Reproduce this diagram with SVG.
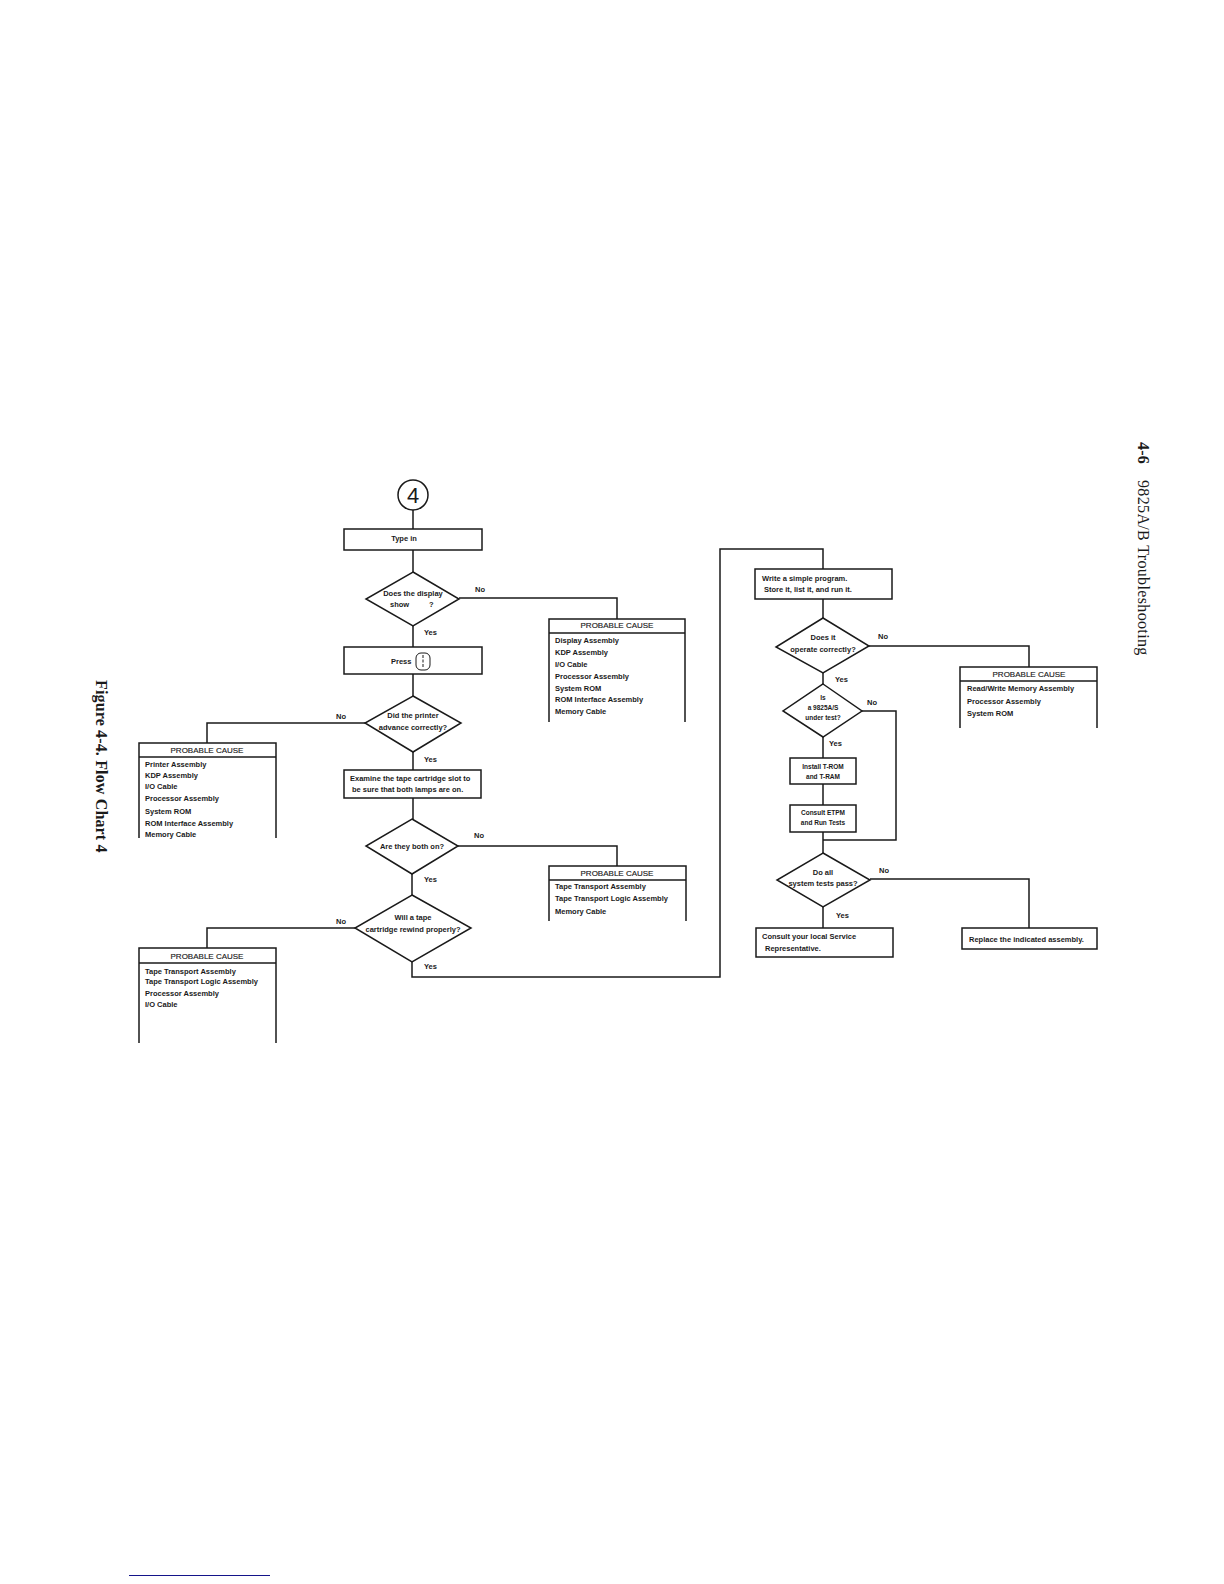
<svg xmlns="http://www.w3.org/2000/svg" width="1224" height="1584" viewBox="0 0 1224 1584">
<style>
text{font-family:"Liberation Sans",Arial,sans-serif;font-size:7.5px;font-weight:bold;fill:#1a1a1a}
.c{text-anchor:middle}
.h{font-size:8px;font-weight:normal;stroke:#1a1a1a;stroke-width:.15}
.s{font-size:6.5px}
.n{fill:#fff;stroke:#1a1a1a;stroke-width:1.5}
.o{fill:none;stroke:#1a1a1a;stroke-width:1.5}
.l{fill:none;stroke:#1a1a1a;stroke-width:1.5}
.t{font-family:"Liberation Serif",serif;font-size:16px;font-weight:normal;letter-spacing:.35px}
.b{font-weight:bold;letter-spacing:.15px}
</style>
<rect width="1224" height="1584" fill="#fff"/>
<g id="connectors" class="l">
<path d="M413 510V529M413 550V572M459 598H617V619M413 626V647M413 674V696M365 723H207V743M413 752V770M413 798V819M458 846H617V866M412 874V895M355 928H207V948M412 962V977H720V549H823V569M823 599V618M869 646H1029V667M823 673V684M862 711H896V840H823M823 737V758M823 784V805M823 832V853M870 879H1029V928M823 907V928"/>
</g>
<g id="n-start"><circle class="n" cx="413" cy="495" r="15"/><text class="c" x="413" y="503" style="font-size:22px;font-weight:normal">4</text></g>
<g id="n-typein"><rect class="n" x="344" y="529" width="138" height="21"/><text class="c" x="404" y="541">Type in</text></g>
<g id="n-d1"><path class="n" d="M413 572L459 599L413 626L366 599Z"/><text class="c" x="413" y="596">Does the display</text><text x="390" y="607">show</text><text x="429" y="607">?</text></g>
<g id="n-press"><rect class="n" x="344" y="647" width="138" height="27"/><text x="391" y="664">Press</text><rect x="416" y="653" width="14" height="17" rx="5" fill="#fff" stroke="#1a1a1a" stroke-width="1"/><path d="M423 655V668" stroke="#1a1a1a" stroke-width="1" stroke-dasharray="3 1.5"/></g>
<g id="n-d2"><path class="n" d="M413 696L461 723L413 752L365 723Z"/><text class="c" x="413" y="718">Did the printer</text><text class="c" x="413" y="730">advance correctly?</text></g>
<g id="n-examine"><rect class="n" x="344" y="770" width="137" height="28"/><text x="350" y="781">Examine the tape cartridge slot to</text><text x="352" y="792">be sure that both lamps are on.</text></g>
<g id="n-d3"><path class="n" d="M412 819L458 846L412 874L366 846Z"/><text class="c" x="412" y="849">Are they both on?</text></g>
<g id="n-d4"><path class="n" d="M412 895L471 928L412 962L355 928Z"/><text class="c" x="413" y="920">Will a tape</text><text class="c" x="413" y="932">cartridge rewind properly?</text></g>
<g id="n-pc1"><path class="n" d="M549 722V619H685V722" /><path class="o" d="M549 633H685"/><text class="c h" x="617" y="628">PROBABLE CAUSE</text><text x="555" y="643">Display Assembly</text><text x="555" y="655">KDP Assembly</text><text x="555" y="667">I/O Cable</text><text x="555" y="679">Processor Assembly</text><text x="555" y="691">System ROM</text><text x="555" y="702">ROM Interface Assembly</text><text x="555" y="714">Memory Cable</text></g>
<g id="n-pc2"><path class="n" d="M139 838V743H276V838"/><path class="o" d="M139 757H276"/><text class="c h" x="207" y="753">PROBABLE CAUSE</text><text x="145" y="767">Printer Assembly</text><text x="145" y="778">KDP Assembly</text><text x="145" y="789">I/O Cable</text><text x="145" y="801">Processor Assembly</text><text x="145" y="814">System ROM</text><text x="145" y="826">ROM Interface Assembly</text><text x="145" y="837">Memory Cable</text></g>
<g id="n-pc3"><path class="n" d="M549 921V866H686V921"/><path class="o" d="M549 880H686"/><text class="c h" x="617" y="876">PROBABLE CAUSE</text><text x="555" y="889">Tape Transport Assembly</text><text x="555" y="901">Tape Transport Logic Assembly</text><text x="555" y="914">Memory Cable</text></g>
<g id="n-pc4"><path class="n" d="M139 1043V948H276V1043"/><path class="o" d="M139 963H276"/><text class="c h" x="207" y="959">PROBABLE CAUSE</text><text x="145" y="974">Tape Transport Assembly</text><text x="145" y="984">Tape Transport Logic Assembly</text><text x="145" y="996">Processor Assembly</text><text x="145" y="1007">I/O Cable</text></g>
<g id="n-write"><rect class="n" x="755" y="569" width="137" height="30"/><text x="762" y="581">Write a simple program.</text><text x="764" y="592">Store it, list it, and run it.</text></g>
<g id="n-d5"><path class="n" d="M823 618L869 646L823 673L776 647Z"/><text class="c" x="823" y="640">Does it</text><text class="c" x="823" y="652">operate correctly?</text></g>
<g id="n-pc5"><path class="n" d="M960 728V667H1097V728"/><path class="o" d="M960 681H1097"/><text class="c h" x="1029" y="677">PROBABLE CAUSE</text><text x="967" y="691">Read/Write Memory Assembly</text><text x="967" y="704">Processor Assembly</text><text x="967" y="716">System ROM</text></g>
<g id="n-d6"><path class="n" d="M823 684L862 711L823 737L783 711Z"/><text class="c s" x="823" y="700">Is</text><text class="c s" x="823" y="710">a 9825A/S</text><text class="c s" x="823" y="720">under test?</text></g>
<g id="n-install"><rect class="n" x="790" y="758" width="66" height="26"/><text class="c s" x="823" y="769">Install T-ROM</text><text class="c s" x="823" y="779">and T-RAM</text></g>
<g id="n-consult"><rect class="n" x="790" y="805" width="66" height="27"/><text class="c s" x="823" y="815">Consult ETPM</text><text class="c s" x="823" y="825">and Run Tests</text></g>
<g id="n-d7"><path class="n" d="M823 853L870 880L823 907L777 880Z"/><text class="c" x="823" y="875">Do all</text><text class="c" x="823" y="886">system tests pass?</text></g>
<g id="n-service"><rect class="n" x="756" y="928" width="137" height="29"/><text x="762" y="939">Consult your local Service</text><text x="765" y="951">Representative.</text></g>
<g id="n-replace"><rect class="n" x="962" y="928" width="135" height="21"/><text x="969" y="942">Replace the indicated assembly.</text></g>
<g id="labels">
<text x="475" y="592">No</text><text x="424" y="635">Yes</text><text x="336" y="719">No</text><text x="424" y="762">Yes</text><text x="474" y="838">No</text><text x="424" y="882">Yes</text><text x="336" y="924">No</text><text x="424" y="969">Yes</text><text x="878" y="639">No</text><text x="835" y="682">Yes</text><text x="867" y="705">No</text><text x="829" y="746">Yes</text><text x="879" y="873">No</text><text x="836" y="918">Yes</text>
</g>
<text class="t b" transform="translate(96 680) rotate(90)">Figure 4-4. Flow Chart 4</text>
<text class="t b" transform="translate(1138 442) rotate(90)">4-6</text>
<text class="t" transform="translate(1138 480) rotate(90)">9825A/B Troubleshooting</text>
<path d="M129 1575.5H270" stroke="#14148a" stroke-width="1"/>
</svg>
